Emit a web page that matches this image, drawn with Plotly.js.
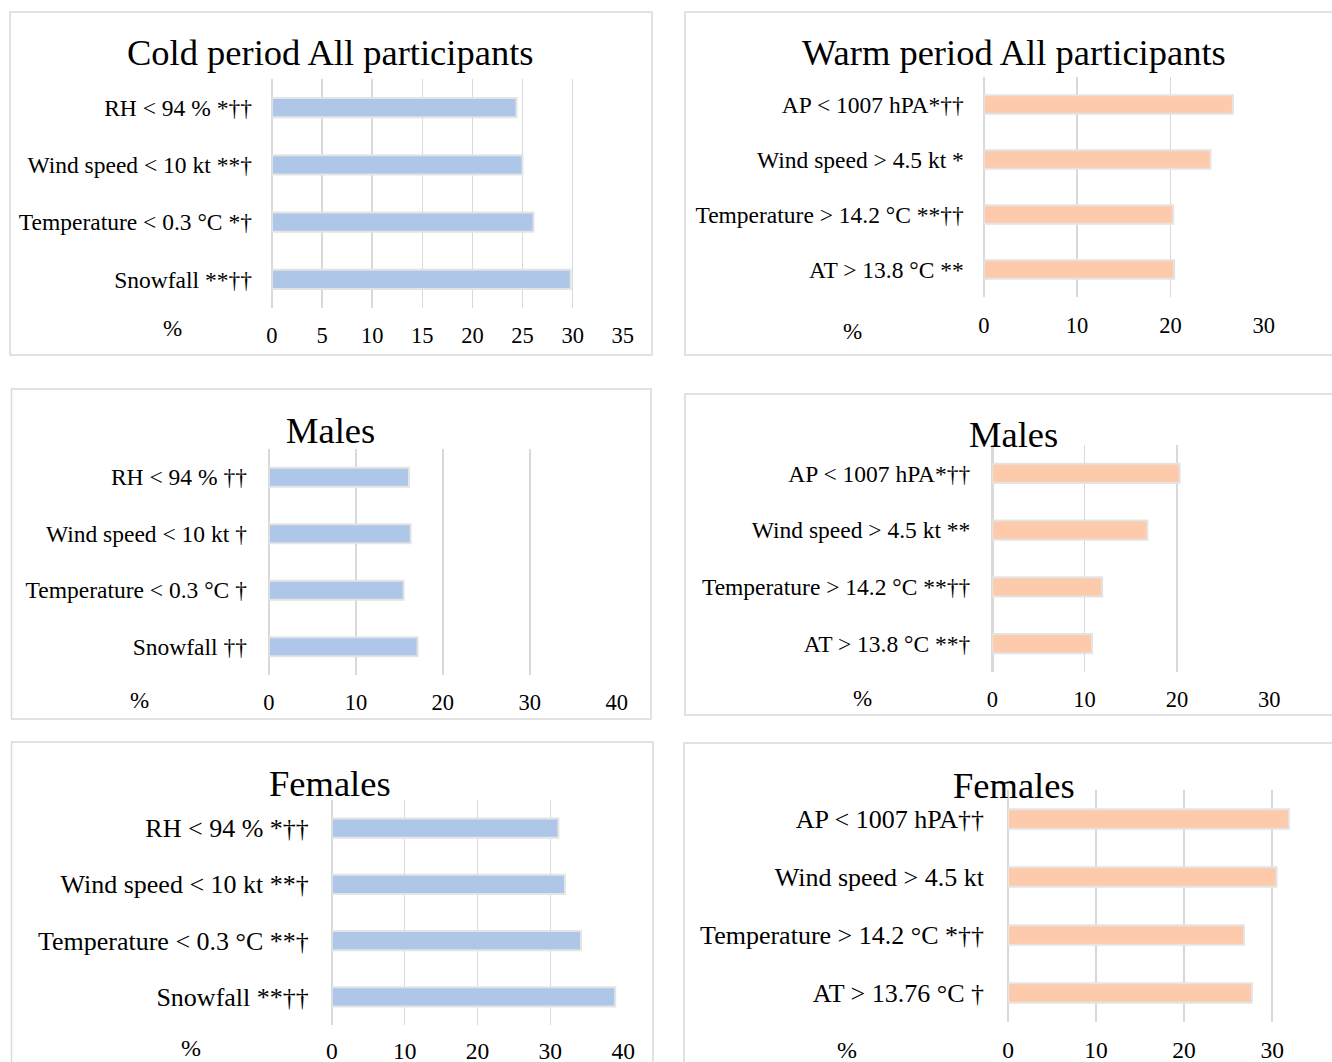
<!DOCTYPE html>
<html>
<head>
<meta charset="utf-8">
<script src="https://cdn.plot.ly/plotly-3.0.1.min.js"></script>
<style>html,body{margin:0;padding:0;background:#fff;}#chart{width:1332px;height:1062px;}</style>
</head>
<body>
<div id="chart"></div>
<script>
// ---------- DATA ----------
var coldAllCats = ["RH < 94 % *††", "Wind speed < 10 kt **†", "Temperature < 0.3 °C *†", "Snowfall **††"];
var coldAllVals = [24.4, 25.0, 26.1, 29.8];
var warmAllCats = ["AP < 1007 hPA*††", "Wind speed > 4.5 kt *", "Temperature > 14.2 °C **††", "AT > 13.8 °C **"];
var warmAllVals = [26.7, 24.3, 20.3, 20.4];
var coldMaleCats = ["RH < 94 % ††", "Wind speed < 10 kt †", "Temperature < 0.3 °C †", "Snowfall ††"];
var coldMaleVals = [16.1, 16.3, 15.5, 17.1];
var warmMaleCats = ["AP < 1007 hPA*††", "Wind speed > 4.5 kt **", "Temperature > 14.2 °C **††", "AT > 13.8 °C **†"];
var warmMaleVals = [20.3, 16.8, 11.9, 10.8];
var coldFemaleCats = ["RH < 94 % *††", "Wind speed < 10 kt **†", "Temperature < 0.3 °C **†", "Snowfall **††"];
var coldFemaleVals = [31.1, 32.0, 34.2, 38.9];
var warmFemaleCats = ["AP < 1007 hPA††", "Wind speed > 4.5 kt", "Temperature > 14.2 °C *††", "AT > 13.76 °C †"];
var warmFemaleVals = [31.9, 30.5, 26.8, 27.7];
var panelTitles = ["Cold period All participants", "Warm period All participants", "Males", "Males", "Females", "Females"];
var xTickVals = [[0,5,10,15,20,25,30,35],[0,10,20,30],[0,10,20,30,40],[0,10,20,30],[0,10,20,30,40],[0,10,20,30]];
var unitLabel = "%";

// ---------- STYLE / GEOMETRY ----------
var W = 1332, H = 1062;
var FONT = "Liberation Serif, Times New Roman, serif";
var BLUE = "#aec6e8", ORANGE = "#fdcaab";
var panels = [
  {cats: coldAllCats, vals: coldAllVals, color: BLUE, x0: 271.9, x1: 622.8, range: [0,35], y0: 79, y1: 308, box: [10,12,652,355], title: [330,53], pct: [172,328], lab: 21, tsd: 11, cf: 23.5, tf: 22.5},
  {cats: warmAllCats, vals: warmAllVals, color: ORANGE, x0: 983.8, x1: 1263.7, range: [0,30], y0: 77, y1: 297, box: [685,12,1345,355], title: [1014,53], pct: [852,332], lab: 21, tsd: 12, cf: 23.5, tf: 22.5},
  {cats: coldMaleCats, vals: coldMaleVals, color: BLUE, x0: 268.9, x1: 616.8, range: [0,40], y0: 449, y1: 675, box: [11.5,389,651,719], title: [330,430], pct: [139,700], lab: 23, tsd: 11, cf: 23.5, tf: 22.5},
  {cats: warmMaleCats, vals: warmMaleVals, color: ORANGE, x0: 992.3, x1: 1269.2, range: [0,30], y0: 445, y1: 672, box: [685,394,1345,715], title: [1013.5,435], pct: [862,698], lab: 23, tsd: 11, cf: 23.5, tf: 22.5},
  {cats: coldFemaleCats, vals: coldFemaleVals, color: BLUE, x0: 331.8, x1: 623.2, range: [0,40], y0: 800, y1: 1025, box: [11.5,742,653,1080], title: [330,783], pct: [191,1048], lab: 24, tsd: 9, cf: 26, tf: 23.5},
  {cats: warmFemaleCats, vals: warmFemaleVals, color: ORANGE, x0: 1008, x1: 1332, range: [0,36.8], y0: 790, y1: 1022, box: [684,743,1345,1080], title: [1013.5,785], pct: [846.5,1050], lab: 25, tsd: 11, cf: 26, tf: 23.5}
];
function px(x){ return x / W; }
function py(y){ return 1 - y / H; }

var traces = [];
var layout = {
  width: W, height: H,
  margin: {l: 0, r: 0, t: 0, b: 0},
  paper_bgcolor: "#ffffff", plot_bgcolor: "rgba(0,0,0,0)",
  showlegend: false,
  font: {family: FONT, color: "#000000", size: 22},
  shapes: [], annotations: []
};

panels.forEach(function(p, i){
  var n = i + 1;
  var xa = n === 1 ? "x" : "x" + n, ya = n === 1 ? "y" : "y" + n;
  traces.push({
    type: "bar", orientation: "h", x: p.vals, y: p.cats,
    xaxis: xa, yaxis: ya, width: 0.34,
    marker: {color: p.color, line: {color: "#e4e4e4", width: 2}},
    hoverinfo: "x+y"
  });
  layout["xaxis" + (n === 1 ? "" : n)] = {
    domain: [px(p.x0), Math.min(1, px(p.x1))], anchor: ya,
    range: p.range, tickvals: xTickVals[i], ticks: "",
    showgrid: true, gridcolor: "#d9d9d9", gridwidth: 1.4,
    zeroline: true, zerolinecolor: "#d9d9d9", zerolinewidth: 2.5,
    showline: false, fixedrange: true,
    tickfont: {family: FONT, size: p.tf, color: "#000"},
    ticklabelstandoff: p.tsd
  };
  layout["yaxis" + (n === 1 ? "" : n)] = {
    domain: [py(p.y1), py(p.y0)], anchor: xa,
    type: "category", categoryarray: p.cats, range: [3.5, -0.5],
    showgrid: false, zeroline: false, showline: false, ticks: "",
    tickfont: {family: FONT, size: p.cf, color: "#000"},
    ticklabelstandoff: Math.round(p.lab - 2), fixedrange: true
  };
  layout.shapes.push({
    type: "rect", xref: "paper", yref: "paper",
    x0: px(p.box[0]), x1: px(p.box[2]), y0: py(p.box[3]), y1: py(p.box[1]),
    line: {color: "#d9d9d9", width: 1.5}, fillcolor: "rgba(0,0,0,0)", layer: "below"
  });
  layout.annotations.push({
    xref: "paper", yref: "paper", x: px(p.title[0]), y: py(p.title[1]),
    xanchor: "center", yanchor: "middle", showarrow: false,
    text: panelTitles[i], font: {family: FONT, size: 36.5, color: "#000"}
  });
  layout.annotations.push({
    xref: "paper", yref: "paper", x: px(p.pct[0]), y: py(p.pct[1]),
    xanchor: "center", yanchor: "middle", showarrow: false,
    text: unitLabel, font: {family: FONT, size: p.tf + 0.5, color: "#000"}
  });
});

Plotly.newPlot("chart", traces, layout, {displayModeBar: false, staticPlot: true});
</script>
</body>
</html>
